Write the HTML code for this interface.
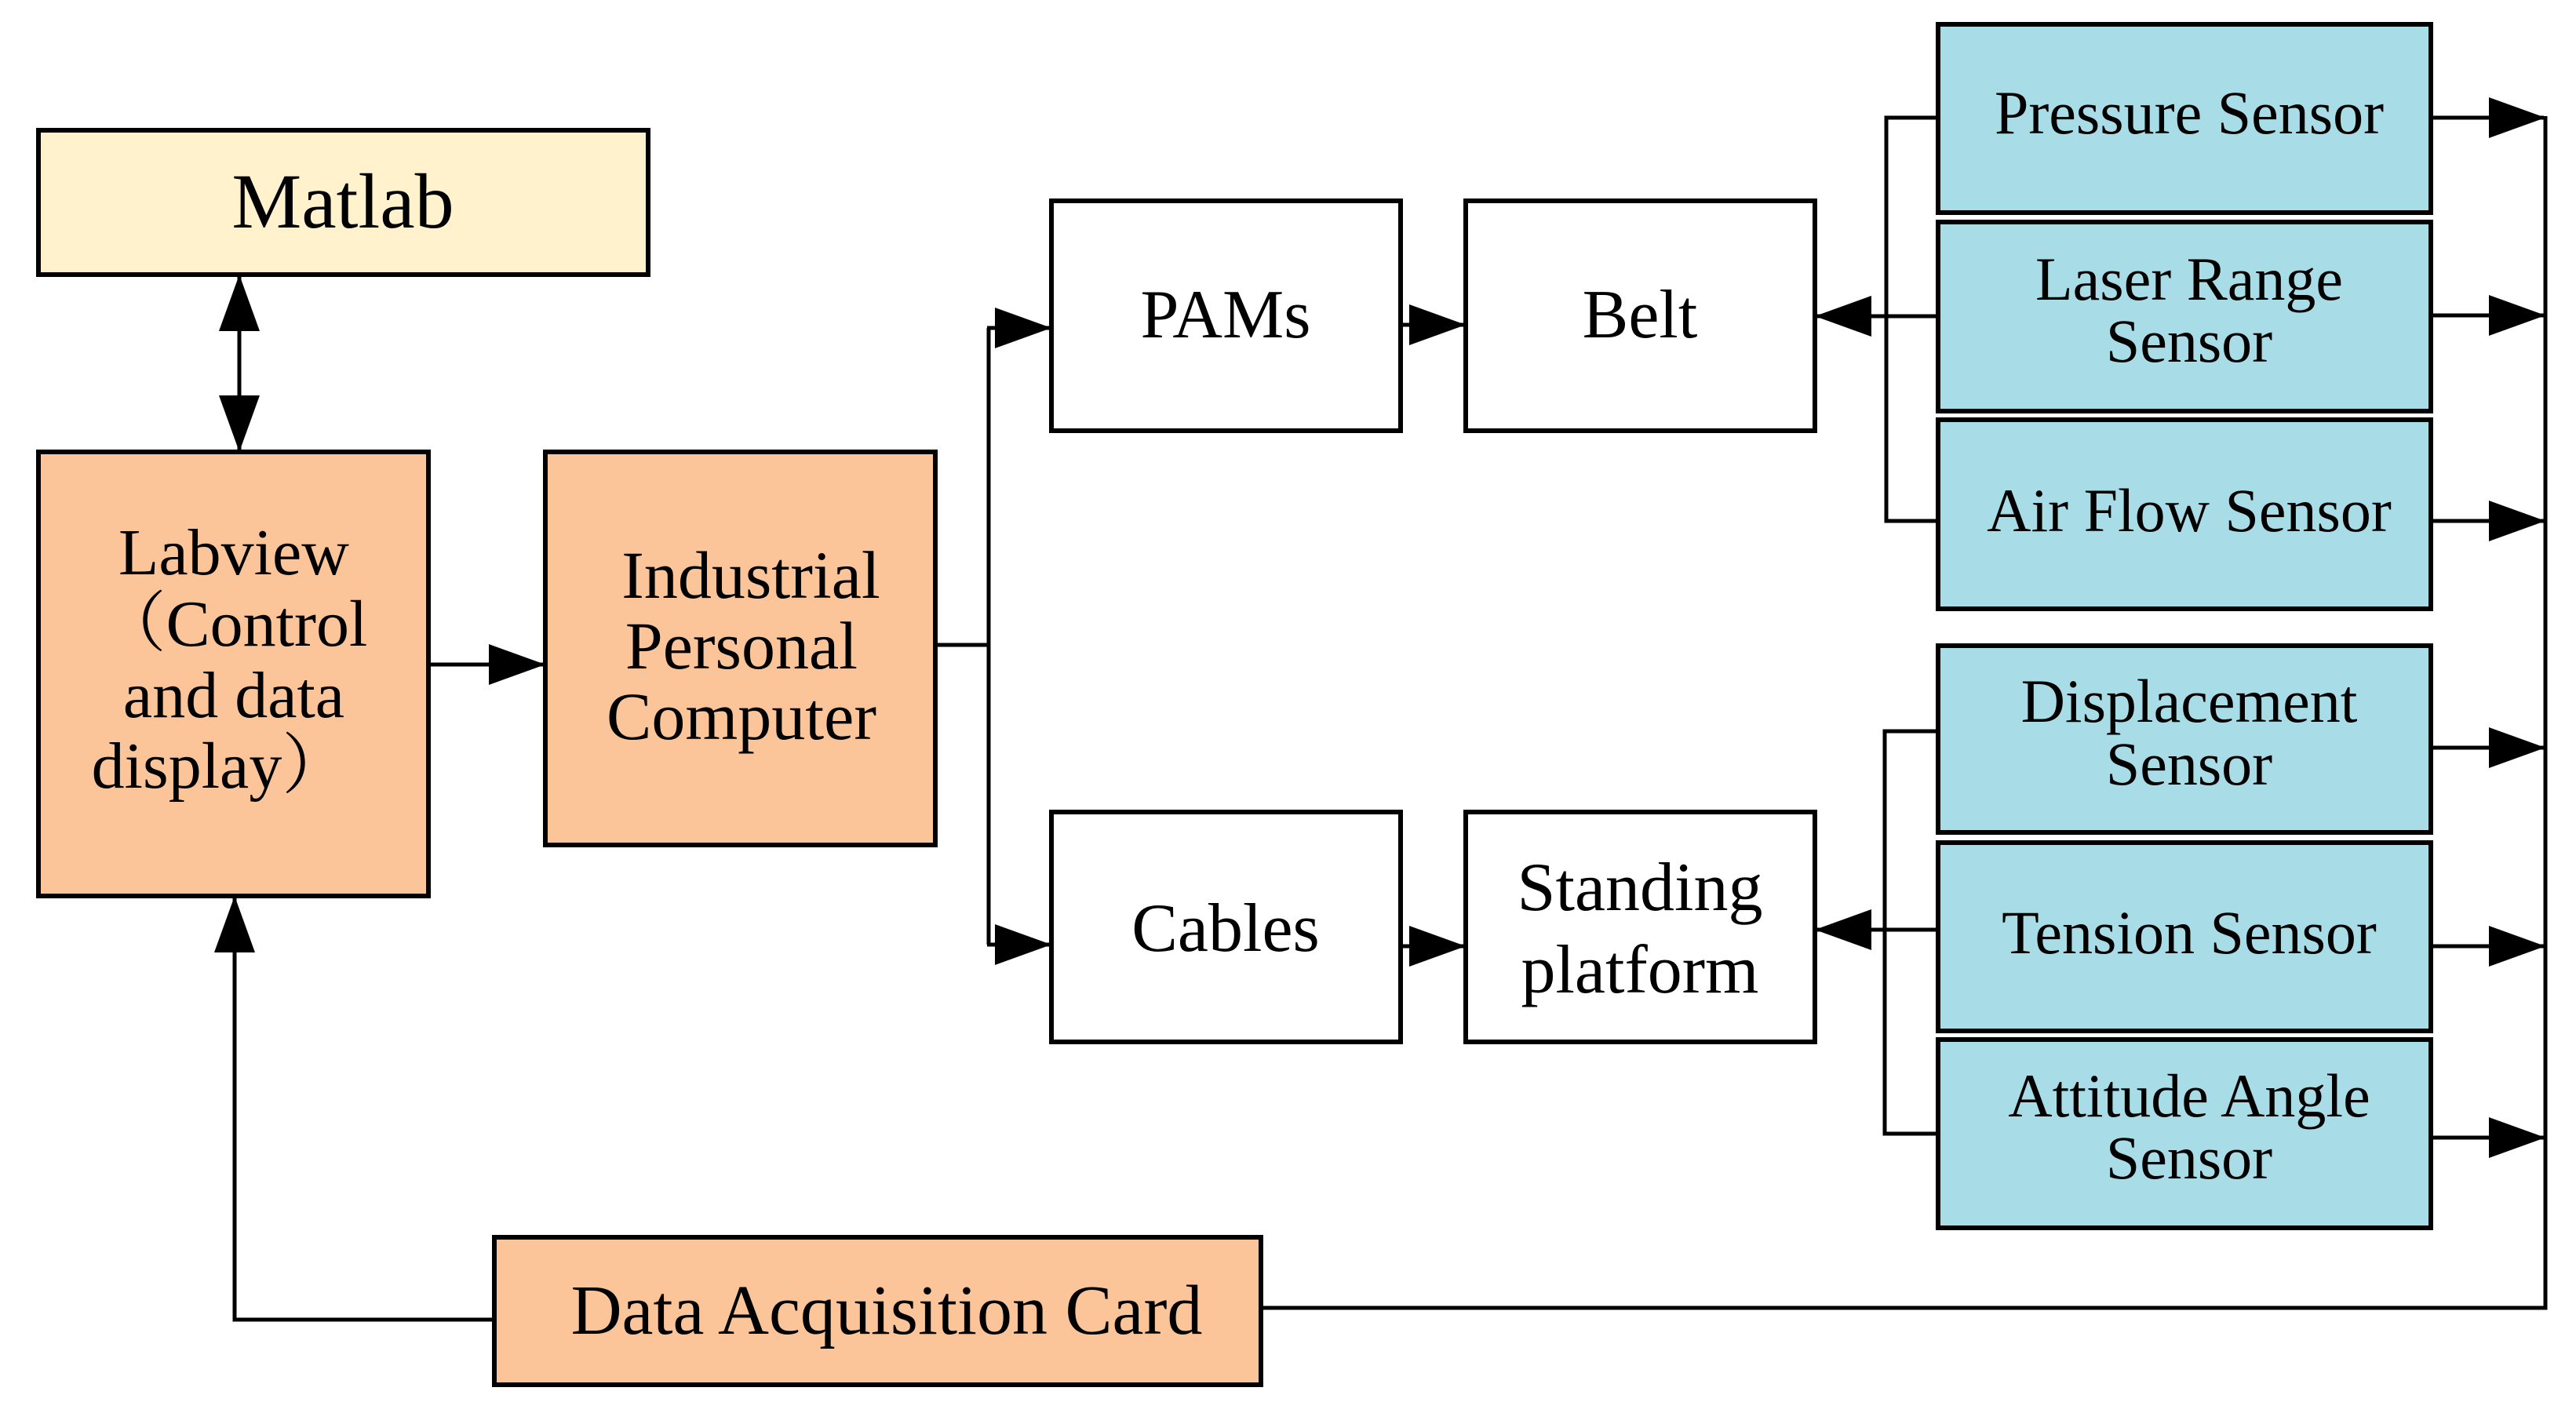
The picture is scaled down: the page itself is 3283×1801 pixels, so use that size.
<!DOCTYPE html>
<html><head><meta charset="utf-8"><style>
html,body{margin:0;padding:0;background:#fff}
svg{display:block}
text{font-family:"Liberation Serif","Noto Serif CJK SC",serif;fill:#000;text-anchor:middle}
</style></head><body>
<svg width="3283" height="1801" viewBox="0 0 3283 1801" xmlns="http://www.w3.org/2000/svg">
<defs>
<marker id="a" markerWidth="72" markerHeight="52" refX="70" refY="26" orient="auto-start-reverse" markerUnits="userSpaceOnUse">
<path d="M0,0 L72,26 L0,52 Z" fill="#000"/></marker>
</defs>
<g stroke="#000" stroke-width="6">
<rect x="49" y="166" width="777" height="184" fill="#fff2cc"/>
<rect x="49" y="576" width="497" height="566" fill="#fcc599"/>
<rect x="695" y="576" width="497" height="501" fill="#fcc599"/>
<rect x="630" y="1577" width="977" height="188" fill="#fcc599"/>
<rect x="1340" y="256" width="445" height="293" fill="#fff"/>
<rect x="1868" y="256" width="445" height="293" fill="#fff"/>
<rect x="1340" y="1035" width="445" height="293" fill="#fff"/>
<rect x="1868" y="1035" width="445" height="293" fill="#fff"/>
<g fill="#a8dde8">
<rect x="2470" y="31" width="628" height="240"/>
<rect x="2470" y="283" width="628" height="241"/>
<rect x="2470" y="535" width="628" height="241"/>
<rect x="2470" y="823" width="628" height="238"/>
<rect x="2470" y="1074" width="628" height="240"/>
<rect x="2470" y="1325" width="628" height="240"/>
</g>
</g>
<g stroke="#000" stroke-width="5" fill="none">
<line x1="305" y1="352" x2="305" y2="574" marker-start="url(#a)" marker-end="url(#a)"/>
<line x1="546" y1="847" x2="693" y2="847" marker-end="url(#a)"/>
<polyline points="1192,822 1260,822"/>
<line x1="1260" y1="418" x2="1260" y2="1204"/>
<line x1="1258" y1="418" x2="1338" y2="418" marker-end="url(#a)"/>
<line x1="1258" y1="1204" x2="1338" y2="1204" marker-end="url(#a)"/>
<line x1="1785" y1="414" x2="1866" y2="414" marker-end="url(#a)"/>
<line x1="1785" y1="1206" x2="1866" y2="1206" marker-end="url(#a)"/>
<polyline points="2470,150 2404,150 2404,664 2470,664"/>
<line x1="2470" y1="403" x2="2315" y2="403" marker-end="url(#a)"/>
<polyline points="2470,932 2402,932 2402,1445 2470,1445"/>
<line x1="2470" y1="1185" x2="2315" y2="1185" marker-end="url(#a)"/>
<line x1="3098" y1="150" x2="3242" y2="150" marker-end="url(#a)"/>
<line x1="3098" y1="402" x2="3242" y2="402" marker-end="url(#a)"/>
<line x1="3098" y1="664" x2="3242" y2="664" marker-end="url(#a)"/>
<line x1="3098" y1="953" x2="3242" y2="953" marker-end="url(#a)"/>
<line x1="3098" y1="1206" x2="3242" y2="1206" marker-end="url(#a)"/>
<line x1="3098" y1="1450" x2="3242" y2="1450" marker-end="url(#a)"/>
<polyline points="3244,148 3244,1667 1607,1667"/>
<polyline points="630,1682 299,1682 299,1144" marker-end="url(#a)"/>
</g>
<text x="437" y="290" font-size="100">Matlab</text>
<text x="298" y="732" font-size="84">Labview</text>
<text x="298" y="823" font-size="84">（Control</text>
<text x="298" y="914" font-size="84">and data</text>
<text x="280" y="1004" font-size="84">display）</text>
<text x="957" y="762" font-size="86">Industrial</text>
<text x="945" y="852" font-size="86">Personal</text>
<text x="945" y="942" font-size="86">Computer</text>
<text x="1562" y="430" font-size="88">PAMs</text>
<text x="2090" y="430" font-size="88">Belt</text>
<text x="1562" y="1212" font-size="88">Cables</text>
<text x="2090" y="1160" font-size="88">Standing</text>
<text x="2090" y="1265" font-size="88">platform</text>
<text x="1130" y="1700" font-size="90">Data Acquisition Card</text>
<g font-size="78">
<text x="2790" y="170">Pressure Sensor</text>
<text x="2790" y="382">Laser Range</text>
<text x="2790" y="461">Sensor</text>
<text x="2790" y="677">Air Flow Sensor</text>
<text x="2790" y="920">Displacement</text>
<text x="2790" y="1000">Sensor</text>
<text x="2790" y="1215">Tension Sensor</text>
<text x="2790" y="1423">Attitude Angle</text>
<text x="2790" y="1502">Sensor</text>
</g>
</svg>
</body></html>
